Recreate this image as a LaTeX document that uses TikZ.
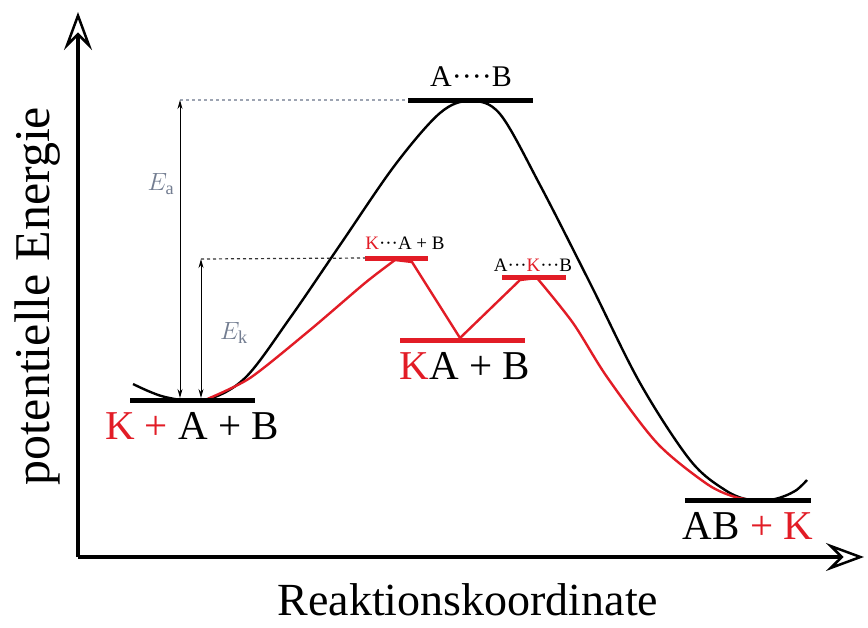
\documentclass[tikz,border=0pt]{standalone}
\usepackage{fontspec}
\setmainfont{Liberation Serif}
\usetikzlibrary{arrows.meta}
\definecolor{myred}{RGB}{226,28,38}
\definecolor{dimgray}{RGB}{115,125,145}
\tikzset{
  lvl/.style={line width=5pt},
  rlvl/.style={line width=5pt, draw=myred},
  curve/.style={line width=2.4pt, line join=round},
  axis/.style={line width=3.5pt, -{Stealth[length=38pt, width=28pt, inset=14pt, open, line width=2.5pt]}},
  earrow/.style={line width=1pt, {Stealth[length=9pt,width=5pt]}-{Stealth[length=9pt,width=5pt]}},
  big/.style={font=\rmfamily\fontsize{41}{46}\selectfont, inner sep=0pt},
  small/.style={font=\rmfamily\fontsize{19}{22}\selectfont, inner sep=0pt},
}
\begin{document}
\begin{tikzpicture}[x=1pt,y=-1pt]
\useasboundingbox[fill=white] (0,0) rectangle (868,627);
% axes
\coordinate (O) at (78,557);
\coordinate (Ytip) at (78,12);
\coordinate (Xtip) at (864,557);
\draw[axis] (O) -- (Ytip);
\draw[axis] (O) -- (Xtip);
\node[font=\rmfamily\fontsize{50}{56}\selectfont, rotate=90, inner sep=0pt] (ylab) at (38,296) {potentielle Energie};
\node[font=\rmfamily\fontsize{46}{52}\selectfont, inner sep=0pt] (xlab) at (468,600) {Reaktionskoordinate};
% levels
\coordinate (R1) at (130,400); \coordinate (R2) at (255,400);
\coordinate (T1) at (408,100); \coordinate (T2) at (533,100);
\coordinate (P1) at (685,500); \coordinate (P2) at (811,500);
\coordinate (C1) at (365,258); \coordinate (C2) at (428,258);
\coordinate (I1) at (400,340); \coordinate (I2) at (525,340);
\coordinate (D1) at (502,277); \coordinate (D2) at (566,277);
% curves
\draw[curve] plot[smooth, tension=0.55] coordinates {(133,384) (165,397) (205,400) (245,378) (290,318) (340,245) (395,165) (440,113) (470,101) (500,114) (540,185) (590,283) (640,383) (690,460) (725,490) (750,500) (775,499) (795,491) (807,480)};
\draw[curve, draw=myred] plot[smooth, tension=0.45] coordinates {(205,400) (250,378) (310,330) (365,283) (395,260)};
\draw[curve, draw=myred] (395,260) -- (412,262) -- (460,338) -- (520,280) -- (537,278);
\draw[curve, draw=myred] plot[smooth, tension=0.5] coordinates {(537,278) (573,323) (607,377) (657,443) (707,484) (735,497) (755,500)};
\draw[lvl] (R1) -- (R2);
\draw[lvl] (T1) -- (T2);
\draw[lvl] (P1) -- (P2);
\draw[rlvl] (C1) -- (C2);
\draw[rlvl] (I1) -- (I2);
\draw[rlvl] (D1) -- (D2);
% dashed guides
\coordinate (Ea0) at (180,398);
\coordinate (Ea1) at (180,100);
\coordinate (Ek0) at (201,398);
\coordinate (Ek1) at (201,259);
\draw[dashed, dimgray!70, line width=1.2pt] (Ea1) -- (T1);
\draw[dashed, black!80, line width=1.2pt] (Ek1) -- (C1);
\draw[earrow] (Ea0) -- (Ea1);
\draw[earrow] (Ek0) -- (Ek1);
\node[text=dimgray, font=\fontsize{26}{30}\selectfont] (Ea) at (161,184) {$E_{\mathrm{a}}$};
\node[text=dimgray, font=\fontsize{26}{30}\selectfont] (Ek) at (234,333) {$E_{\mathrm{k}}$};
% labels
\node[big] (lR) at (192,426) {\textcolor{myred}{K +} A + B};
\node[big] (lI) at (465,366) {\textcolor{myred}{K}A + B};
\node[big] (lP) at (748,526) {AB \textcolor{myred}{+ K}};
\node[font=\rmfamily\fontsize{30}{34}\selectfont, inner sep=0pt] (lT) at (471,77) {A····B};
\node[small] (lC) at (405,243) {\textcolor{myred}{K}···A + B};
\node[small] (lD) at (533,265) {A···\textcolor{myred}{K}···B};
\end{tikzpicture}
\end{document}
